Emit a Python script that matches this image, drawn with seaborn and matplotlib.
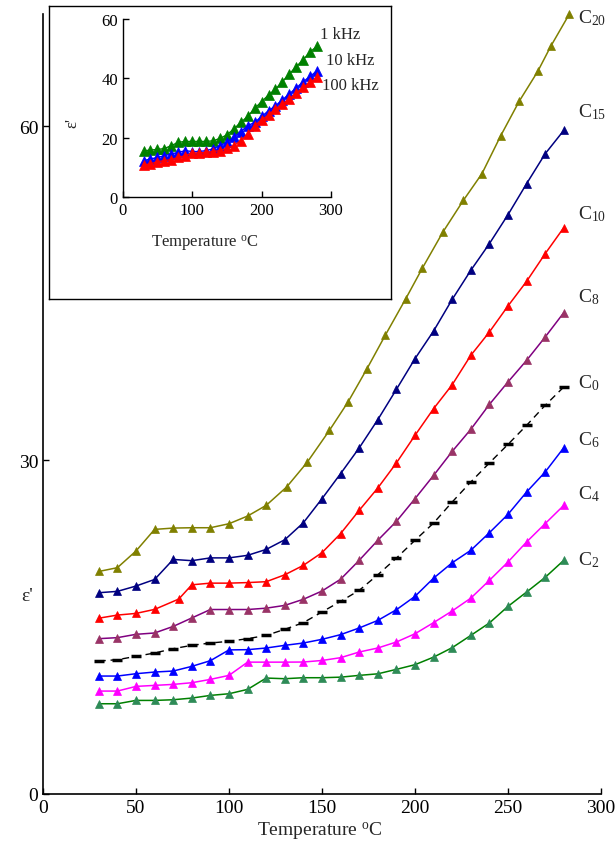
import matplotlib
matplotlib.use("Agg")
import matplotlib.pyplot as plt
import seaborn as sns

sns.set_style("ticks")
plt.rcParams['font.family'] = ['Liberation Serif', 'DejaVu Serif']
plt.rcParams['mathtext.fontset'] = 'custom'
plt.rcParams['mathtext.rm'] = 'Liberation Serif'
plt.rcParams['mathtext.it'] = 'Liberation Serif:italic'

# ---- main chart data ----
temp = [30, 40, 50, 60, 70, 80, 90, 100, 110, 120, 130, 140, 150,
        160, 170, 180, 190, 200, 210, 220, 230, 240, 250, 260, 270, 280]
temp_c10 = [30, 40, 50, 60, 73, 80, 90, 100, 110, 120, 130, 140, 150,
            160, 170, 180, 190, 200, 210, 220, 230, 240, 250, 260, 270, 280]
temp_c20 = [30, 40, 50, 60, 70, 80, 90, 100, 110, 120, 131, 142, 154,
            164, 174, 184, 195, 204, 215, 226, 236, 246, 256, 266, 273, 283]

c2 = [8.11, 8.11, 8.41, 8.41, 8.47, 8.62, 8.86, 9.01, 9.4, 10.42, 10.36, 10.45, 10.45,
      10.5, 10.66, 10.8, 11.2, 11.62, 12.3, 13.15, 14.25, 15.37, 16.86, 18.15, 19.47, 21.0]
c4 = [9.25, 9.25, 9.67, 9.76, 9.85, 10.0, 10.3, 10.66, 11.85, 11.85, 11.85, 11.86, 12.0,
      12.25, 12.76, 13.12, 13.66, 14.4, 15.4, 16.45, 17.6, 19.2, 20.85, 22.65, 24.3, 25.94]
c6 = [10.6, 10.6, 10.81, 10.96, 11.05, 11.47, 11.98, 12.95, 12.97, 13.12, 13.36, 13.57, 13.9,
      14.32, 14.92, 15.6, 16.56, 17.76, 19.4, 20.78, 21.9, 23.48, 25.13, 27.14, 28.94, 31.12]
c0 = [11.95, 12.07, 12.37, 12.67, 13.06, 13.36, 13.57, 13.72, 13.96, 14.25, 14.8, 15.4, 16.36,
      17.31, 18.3, 19.7, 21.2, 22.8, 24.35, 26.24, 28.04, 29.75, 31.42, 33.13, 34.93, 36.58]
c8 = [13.96, 14.05, 14.35, 14.47, 15.06, 15.82, 16.58, 16.58, 16.58, 16.7, 16.95, 17.5, 18.24,
      19.3, 21.0, 22.8, 24.5, 26.54, 28.63, 30.79, 32.77, 35.01, 37.03, 38.97, 41.07, 43.26]
c10 = [15.8, 16.08, 16.23, 16.59, 17.52, 18.8, 18.95, 18.95, 19.0, 19.08, 19.7, 20.55, 21.69,
       23.4, 25.49, 27.5, 29.75, 32.23, 34.63, 36.78, 39.42, 41.52, 43.86, 46.07, 48.56, 50.9]
c15 = [18.09, 18.21, 18.69, 19.28, 21.08, 20.97, 21.22, 21.22, 21.45, 21.98, 22.85, 24.38, 26.54,
       28.79, 31.1, 33.64, 36.36, 39.12, 41.61, 44.45, 47.06, 49.46, 52.06, 54.85, 57.54, 59.64]
c20 = [20.0, 20.34, 21.84, 23.78, 23.9, 23.93, 23.93, 24.29, 24.98, 25.94, 27.59, 29.8, 32.68,
       35.23, 38.16, 41.22, 44.5, 47.27, 50.5, 53.35, 55.75, 59.13, 62.25, 64.94, 67.2, 70.1]

labels = [r'C$_{\mathrm{20}}$', r'C$_{\mathrm{15}}$', r'C$_{\mathrm{10}}$', r'C$_{\mathrm{8}}$',
          r'C$_{\mathrm{0}}$', r'C$_{\mathrm{6}}$', r'C$_{\mathrm{4}}$', r'C$_{\mathrm{2}}$']
label_y = [69.8, 61.4, 52.2, 44.7, 37.05, 31.9, 27.0, 21.15]

# ---- inset data (frequencies) ----
temp_in = [30, 40, 50, 60, 70, 80, 90, 100, 110, 120, 130, 140, 150,
           160, 170, 180, 190, 200, 210, 220, 230, 240, 250, 260, 270, 280]
eps_1k = [15.6, 15.9, 16.1, 16.4, 17.4, 18.5, 18.8, 18.8, 18.8, 18.8, 19.0, 19.8, 21.0,
          23.0, 25.2, 27.2, 29.9, 32.2, 34.4, 36.4, 38.9, 41.5, 44.0, 46.3, 49.0, 50.8]
eps_10k = [12.3, 12.9, 13.4, 14.0, 14.6, 15.1, 15.7, 15.4, 15.4, 15.7, 16.3, 17.4, 18.5,
           20.2, 22.1, 24.1, 25.2, 27.2, 29.1, 30.8, 32.8, 34.8, 36.8, 38.9, 40.7, 42.6]
eps_100k = [10.9, 11.2, 12.0, 12.3, 12.7, 13.4, 14.0, 14.9, 14.9, 15.1, 15.4, 15.7, 16.5,
            17.4, 19.0, 21.3, 24.1, 26.0, 27.7, 29.7, 31.4, 33.1, 35.1, 37.0, 38.7, 40.4]
freq_labels = ['1 kHz', '10 kHz', '100 kHz']
freq_label_pos = [(284, 55.0), (293, 46.2), (287, 37.8)]

fig = plt.figure(figsize=(6.16, 8.54), dpi=100)
ax = fig.add_axes([0.0698, 0.0691, 0.9058, 0.9133])

series = [
    (temp_c20, c20, '#808000', '#808000'),
    (temp, c15, '#000080', '#000080'),
    (temp_c10, c10, '#ff0000', '#ff0000'),
    (temp, c8, '#800080', '#993366'),
    (temp, c6, '#0000ff', '#0000ff'),
    (temp, c4, '#ff00ff', '#ff00ff'),
    (temp, c2, '#008000', '#2e8b57'),
]
for xs, ys, lc, mc in series:
    sns.lineplot(x=xs, y=ys, ax=ax, color=lc, lw=1.1, marker='^', markersize=6,
                 markerfacecolor=mc, markeredgecolor=mc, mew=0.5,
                 estimator=None, sort=False, clip_on=False)

sns.lineplot(x=temp, y=c0, ax=ax, color='black', lw=1.0, linestyle=(0, (5, 3.5)),
             marker='_', markersize=7, markeredgecolor='black', mew=2.5,
             estimator=None, sort=False)

for lab, ly in zip(labels, label_y):
    ax.text(287.5, ly, lab, fontsize=14, ha='left', va='center')

ax.set_xlim(0, 300)
ax.set_ylim(0, 70.1)
ax.set_xticks([0, 50, 100, 150, 200, 250, 300])
ax.set_yticks([0, 30, 60])
ax.tick_params(direction='in', length=4, width=1, labelsize=14, colors='black')
for s in ['top', 'right']:
    ax.spines[s].set_visible(False)
for s in ['left', 'bottom']:
    ax.spines[s].set_linewidth(1.2)
    ax.spines[s].set_color('black')
ax.set_xlabel(r'Temperature $^{\mathrm{o}}$C', fontsize=14)
ax.xaxis.set_label_coords(0.497, -0.033)
ax.set_ylabel("ε'", fontsize=14, rotation=0, va='center', ha='center')
ax.yaxis.set_label_coords(-0.028, 0.254)

# inset frame
frame = fig.add_axes([0.0795, 0.6487, 0.5552, 0.3431])
frame.set_xticks([])
frame.set_yticks([])
frame.set_facecolor('white')
for s in frame.spines.values():
    s.set_linewidth(1.0)
    s.set_color('black')

ins = fig.add_axes([0.1992, 0.7678, 0.3382, 0.2088])
ins.patch.set_alpha(0)
for ys, c in [(eps_1k, '#008000'), (eps_10k, '#0000ff'), (eps_100k, '#ff0000')]:
    sns.lineplot(x=temp_in, y=ys, ax=ins, color=c, lw=1.0, marker='^', markersize=6.5,
                 markerfacecolor=c, markeredgecolor=c, mew=0.5,
                 estimator=None, sort=False, clip_on=False)
for lab, (lx, ly) in zip(freq_labels, freq_label_pos):
    ins.text(lx, ly, lab, fontsize=12, ha='left', va='center')
ins.set_xlim(0, 300)
ins.set_ylim(0, 60)
ins.set_xticks([0, 100, 200, 300])
ins.set_yticks([0, 20, 40, 60])
ins.tick_params(direction='in', length=4, width=1, labelsize=12, colors='black')
for s in ['top', 'right']:
    ins.spines[s].set_visible(False)
for s in ['left', 'bottom']:
    ins.spines[s].set_linewidth(1.0)
    ins.spines[s].set_color('black')
ins.set_xlabel(r'Temperature $^{\mathrm{o}}$C', fontsize=12)
ins.xaxis.set_label_coords(0.395, -0.2)
ins.set_ylabel("ε'", fontsize=12)
ins.yaxis.set_label_coords(-0.205, 0.42)

fig.savefig('out.png', dpi=100)
